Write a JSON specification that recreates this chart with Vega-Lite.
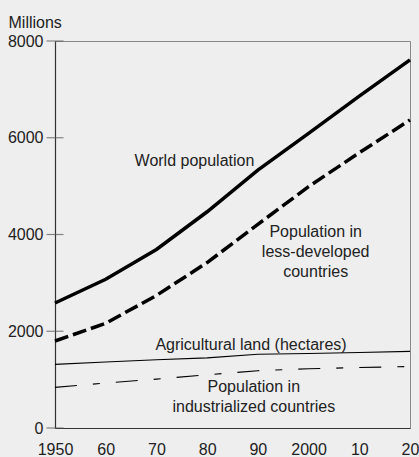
{
  "$schema": "https://vega.github.io/schema/vega-lite/v6.json",
  "width": 355,
  "height": 387,
  "autosize": {"type": "none"},
  "padding": {"left": 55, "top": 41, "right": 9, "bottom": 29},
  "background": "#eeeeee",
  "config": {
    "font": "Liberation Sans",
    "view": {"stroke": "#888888", "strokeWidth": 1},
    "axis": {"grid": false, "labelFontSize": 16, "labelColor": "#222222", "domainColor": "#333333", "domainWidth": 1.2, "ticks": false, "titleFontSize": 16, "titleFontWeight": "normal", "titleColor": "#222222"}
  },
  "datasets": {
    "series": [
      {"year": 1950, "value": 2584, "series": "World population"},
      {"year": 1960, "value": 3074, "series": "World population"},
      {"year": 1970, "value": 3690, "series": "World population"},
      {"year": 1980, "value": 4470, "series": "World population"},
      {"year": 1990, "value": 5330, "series": "World population"},
      {"year": 2000, "value": 6090, "series": "World population"},
      {"year": 2010, "value": 6860, "series": "World population"},
      {"year": 2020, "value": 7610, "series": "World population"},
      {"year": 1950, "value": 1798, "series": "Less-developed"},
      {"year": 1960, "value": 2164, "series": "Less-developed"},
      {"year": 1970, "value": 2740, "series": "Less-developed"},
      {"year": 1980, "value": 3420, "series": "Less-developed"},
      {"year": 1990, "value": 4210, "series": "Less-developed"},
      {"year": 2000, "value": 4990, "series": "Less-developed"},
      {"year": 2010, "value": 5690, "series": "Less-developed"},
      {"year": 2020, "value": 6367, "series": "Less-developed"},
      {"year": 1950, "value": 1316, "series": "Agricultural land"},
      {"year": 1960, "value": 1365, "series": "Agricultural land"},
      {"year": 1970, "value": 1410, "series": "Agricultural land"},
      {"year": 1980, "value": 1450, "series": "Agricultural land"},
      {"year": 1990, "value": 1525, "series": "Agricultural land"},
      {"year": 2000, "value": 1540, "series": "Agricultural land"},
      {"year": 2010, "value": 1560, "series": "Agricultural land"},
      {"year": 2020, "value": 1585, "series": "Agricultural land"},
      {"year": 1950, "value": 840, "series": "Industrialized"},
      {"year": 1960, "value": 930, "series": "Industrialized"},
      {"year": 1970, "value": 1010, "series": "Industrialized"},
      {"year": 1980, "value": 1100, "series": "Industrialized"},
      {"year": 1990, "value": 1185, "series": "Industrialized"},
      {"year": 2000, "value": 1225, "series": "Industrialized"},
      {"year": 2010, "value": 1250, "series": "Industrialized"},
      {"year": 2020, "value": 1270, "series": "Industrialized"}
    ],
    "labels": [
      {"year": 1977.5, "value": 5416, "label": "World population"},
      {"year": 2001.4, "value": 3948, "label": "Population in\nless-developed\ncountries"},
      {"year": 1988.65, "value": 1612, "label": "Agricultural land (hectares)"},
      {"year": 1989.2, "value": 744, "label": "Population in\nindustrialized countries"}
    ],
    "yticks": [
      {"value": 0}, {"value": 2000}, {"value": 4000}, {"value": 6000}, {"value": 8000}
    ]
  },
  "layer": [
    {
      "data": {"name": "series"},
      "transform": [{"filter": "datum.series == 'World population'"}],
      "mark": {"type": "line", "color": "black", "strokeWidth": 3.5, "strokeCap": "butt"},
      "encoding": {
        "x": {
          "field": "year", "type": "quantitative",
          "scale": {"domain": [1950, 2020], "nice": false, "zero": false},
          "axis": {
            "title": null,
            "values": [1950, 1960, 1970, 1980, 1990, 2000, 2010, 2020],
            "labelPadding": 13,
            "labelExpr": "datum.value == 1950 || datum.value == 2000 ? toString(datum.value) : toString(datum.value % 100)",
            "labelFlush": false,
            "labelOverlap": false
          }
        },
        "y": {
          "field": "value", "type": "quantitative",
          "scale": {"domain": [0, 8000], "nice": false},
          "axis": {
            "title": "Millions",
            "values": [0, 2000, 4000, 6000, 8000],
            "format": "d",
            "labelPadding": 12,
            "titleAngle": 0,
            "titleAlign": "left",
            "titleBaseline": "alphabetic",
            "titleX": -47,
            "titleY": -14
          }
        }
      }
    },
    {
      "data": {"name": "series"},
      "transform": [{"filter": "datum.series == 'Less-developed'"}],
      "mark": {"type": "line", "color": "black", "strokeWidth": 3.5, "strokeCap": "butt", "strokeDash": [14, 5]},
      "encoding": {
        "x": {"field": "year", "type": "quantitative"},
        "y": {"field": "value", "type": "quantitative"}
      }
    },
    {
      "data": {"name": "series"},
      "transform": [{"filter": "datum.series == 'Agricultural land'"}],
      "mark": {"type": "line", "color": "black", "strokeWidth": 1.1},
      "encoding": {
        "x": {"field": "year", "type": "quantitative"},
        "y": {"field": "value", "type": "quantitative"}
      }
    },
    {
      "data": {"name": "series"},
      "transform": [{"filter": "datum.series == 'Industrialized'"}],
      "mark": {"type": "line", "color": "black", "strokeWidth": 1.1, "strokeCap": "butt", "strokeDash": [22, 16, 7, 16]},
      "encoding": {
        "x": {"field": "year", "type": "quantitative"},
        "y": {"field": "value", "type": "quantitative"}
      }
    },
    {
      "data": {"name": "yticks"},
      "mark": {"type": "tick", "orient": "horizontal", "size": 17, "thickness": 1.2, "color": "#555555"},
      "encoding": {
        "x": {"datum": 1950, "type": "quantitative"},
        "y": {"field": "value", "type": "quantitative"}
      }
    },
    {
      "data": {"name": "labels"},
      "mark": {"type": "text", "fontSize": 16, "color": "#222222", "align": "center", "baseline": "alphabetic", "lineBreak": "\n", "lineHeight": 20},
      "encoding": {
        "x": {"field": "year", "type": "quantitative"},
        "y": {"field": "value", "type": "quantitative"},
        "text": {"field": "label"}
      }
    }
  ]
}
